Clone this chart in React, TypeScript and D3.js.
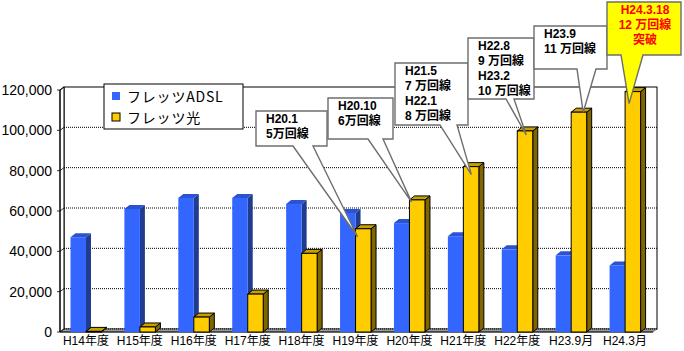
import * as d3 from "d3";

// ---- data ----
const categories = [
  "H14年度", "H15年度", "H16年度", "H17年度", "H18年度", "H19年度",
  "H20年度", "H21年度", "H22年度", "H23.9月", "H24.3月",
];
const seriesNames = ["フレッツADSL", "フレッツ光"];
const adslValues = [47000, 61000, 66500, 66500, 63500, 59000, 54000, 47500, 41000, 38000, 33000];
const hikariValues = [300, 2500, 7400, 18800, 39000, 51200, 65500, 82000, 99700, 109000, 119200];
const yTicks = [0, 20000, 40000, 60000, 80000, 100000, 120000];

const calloutTargets = ["H19年度", "H20年度", "H21年度", "H22年度", "H23.9月", "H24.3月"];
const calloutTexts = [
  ["H20.1", "5万回線"],
  ["H20.10", "6万回線"],
  ["H21.5", "7 万回線", "H22.1", "8 万回線"],
  ["H22.8", "9 万回線", "H23.2", "10 万回線"],
  ["H23.9", "11 万回線"],
  ["H24.3.18", "12 万回線", "突破"],
];

// ---- layout (positions only) ----
const W = 684;
const H = 351;
const plot = { left: 60, right: 653, top: 90, bottom: 332 };
const wall = { dx: 4, dy: -3 };
const depth = { dx: 5, dy: -4 };

// box: x, y, w, h, pointer base x1/x2, tip offset from yellow bar top-left
const calloutBoxes = [
  { x: 256, y: 111, w: 71, h: 35, b1: 293, b2: 313, tx: 2, ty: 8 },
  { x: 328, y: 98, w: 65, h: 41, b1: 368, b2: 383, tx: 2, ty: 2 },
  { x: 395, y: 63, w: 73, h: 62, b1: 440, b2: 457, tx: 8, ty: 8 },
  { x: 468, y: 38, w: 66, h: 61, b1: 506, b2: 514, tx: 9, ty: 4 },
  { x: 534, y: 26, w: 73, h: 43, b1: 577, b2: 596, tx: 12, ty: 0 },
  { x: 607, y: 2, w: 74, h: 53, b1: 621, b2: 643, tx: 4, ty: 12 },
];

const colors = {
  adsl: { front: "#3366FF", side: "#1F3C8F", top: "#2B52D2" },
  hikari: { front: "#FFCC00", side: "#806600", top: "#C8A000" },
};

const fontLatin = "'Liberation Sans', Arial, 'Noto Sans CJK JP', sans-serif";

function Bar3D({ x, w, y, y0, c, outline }: { x: number; w: number; y: number; y0: number; c: { front: string; side: string; top: string }; outline: boolean }) {
  const { dx, dy } = depth;
  const stroke = outline ? "#000" : "none";
  const sw = outline ? 1 : 0;
  const top = `M${x},${y}L${x + dx},${y + dy}L${x + w + dx},${y + dy}L${x + w},${y}Z`;
  const side = `M${x + w},${y}L${x + w + dx},${y + dy}L${x + w + dx},${y0 + dy}L${x + w},${y0}Z`;
  return (
    <g>
      <path d={side} fill={c.side} stroke={stroke} strokeWidth={sw} strokeLinejoin="miter" />
      <path d={top} fill={c.top} stroke={stroke} strokeWidth={sw} />
      <rect x={x} y={y} width={w} height={Math.max(0, y0 - y)} fill={c.front} stroke={stroke} strokeWidth={sw} />
    </g>
  );
}

export default function App() {
  const x = d3.scaleBand<string>().domain(categories).range([plot.left, plot.right]);
  const xs = d3.scaleBand<number>().domain([0, 1]).range([10.5, 41.5]);
  const y = d3.scaleLinear().domain([0, 120000]).range([plot.bottom, plot.top]);
  const fmt = d3.format(",");
  const bw = xs.bandwidth();

  const bL = plot.left + wall.dx;
  const bR = plot.right + wall.dx;
  const bT = plot.top + wall.dy;
  const bB = plot.bottom + wall.dy;

  return (
    <svg width={W} height={H} style={{ position: "absolute", left: 0, top: 0, background: "#fff" }}>
      {/* back wall */}
      <rect x={bL} y={bT} width={bR - bL} height={bB - bT} fill="#fff" stroke="#000" strokeWidth={1} />
      {/* left side wall */}
      <path
        d={`M${plot.left},${plot.bottom}L${bL},${bB}L${bL},${bT}L${plot.left},${plot.top}Z`}
        fill="#fff"
        stroke="#000"
        strokeWidth={1}
      />
      {/* floor */}
      <path
        d={`M${plot.left},${plot.bottom}L${bL},${bB}L${bR},${bB}L${plot.right},${plot.bottom}Z`}
        fill="#9a9a9a"
        stroke="#555"
        strokeWidth={0.6}
      />
      {/* gridlines */}
      {yTicks.map((t) => (
        <g key={t}>
          {t > 0 && t < 120000 && (
            <line x1={bL} x2={bR} y1={y(t) + wall.dy} y2={y(t) + wall.dy} stroke="#000" strokeDasharray="1,1" />
          )}
          <line x1={plot.left} x2={bL} y1={y(t)} y2={y(t) + wall.dy} stroke="#000" strokeWidth={0.8} />
          <line x1={plot.left - 3} x2={plot.left} y1={y(t)} y2={y(t)} stroke="#000" strokeWidth={0.8} />
          <text
            x={52}
            y={y(t)}
            textAnchor="end"
            dominantBaseline="central"
            fontFamily={fontLatin}
            fontSize={14}
            fill="#000"
          >
            {fmt(t)}
          </text>
        </g>
      ))}
      <line x1={bL} x2={bR} y1={bB} y2={bB} stroke="#000" strokeDasharray="1,1" />
      <line x1={plot.left} x2={plot.left} y1={plot.top} y2={plot.bottom} stroke="#000" strokeWidth={1} />
      <line x1={plot.left} x2={plot.right} y1={plot.bottom} y2={plot.bottom} stroke="#000" strokeWidth={1} />

      {/* bars */}
      {categories.map((cat, i) => {
        const x0 = x(cat) ?? 0;
        return (
          <g key={cat}>
            <Bar3D x={x0 + xs(0)!} w={bw} y={y(adslValues[i])} y0={plot.bottom} c={colors.adsl} outline={false} />
            <Bar3D x={x0 + xs(1)!} w={bw} y={y(hikariValues[i])} y0={plot.bottom} c={colors.hikari} outline={true} />
          </g>
        );
      })}

      {/* x labels */}
      {categories.map((cat) => (
        <text
          key={cat}
          x={(x(cat) ?? 0) + x.bandwidth() / 2 - 1}
          y={341}
          textAnchor="middle"
          dominantBaseline="central"
          fontFamily={fontLatin}
          fontSize={12}
          fill="#000"
        >
          {cat}
        </text>
      ))}

      {/* callouts */}
      {calloutBoxes.map((b, k) => {
        const ci = categories.indexOf(calloutTargets[k]);
        const tipX = (x(calloutTargets[k]) ?? 0) + xs(1)! + b.tx;
        const tipY = y(hikariValues[ci]) + b.ty;
        const special = k === calloutBoxes.length - 1;
        const d = `M${b.x},${b.y}H${b.x + b.w}V${b.y + b.h}H${b.b2}L${tipX},${tipY}L${b.b1},${b.y + b.h}H${b.x}Z`;
        return (
          <g key={k}>
            <path d={d} fill={special ? "#FFFF00" : "#fff"} stroke="#6e6e6e" strokeWidth={1.4} strokeLinejoin="miter" />
            {calloutTexts[k].map((line, j) => (
              <text
                key={j}
                x={special ? b.x + b.w / 2 + 1 : b.x + 10}
                y={b.y + 7.5 + j * 15}
                textAnchor={special ? "middle" : "start"}
                dominantBaseline="central"
                fontFamily={fontLatin}
                fontWeight="bold"
                fontSize={12}
                fill={special ? "#FF0000" : "#000"}
              >
                {line}
              </text>
            ))}
          </g>
        );
      })}

      {/* legend */}
      <g>
        <rect x={104} y={84} width={139} height={45} fill="#fff" stroke="#000" strokeWidth={1} />
        {seriesNames.map((name, i) => (
          <g key={name} transform={`translate(112,${96 + i * 21})`}>
            <rect
              x={0}
              y={-4}
              width={8}
              height={8}
              fill={i === 0 ? colors.adsl.front : colors.hikari.front}
              stroke={i === 0 ? "none" : "#000"}
            />
            <text
              x={15}
              y={0}
              dominantBaseline="central"
              fontFamily="'Noto Sans CJK JP', sans-serif"
              fontSize={14}
              letterSpacing={0.8}
              fill="#000"
            >
              {name}
            </text>
          </g>
        ))}
      </g>
    </svg>
  );
}
